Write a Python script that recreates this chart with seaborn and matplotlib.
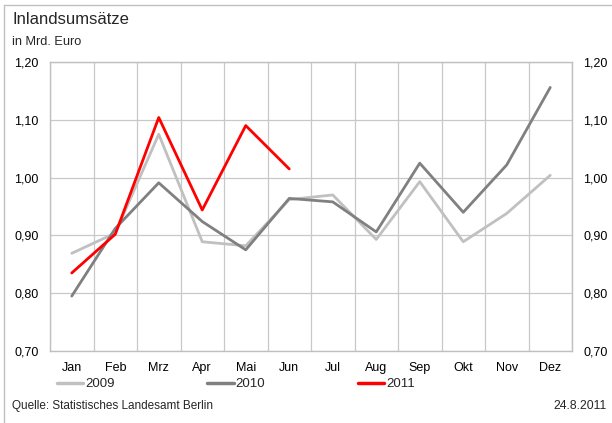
import pandas as pd
import matplotlib
matplotlib.use("Agg")
import matplotlib.pyplot as plt
import seaborn as sns
from matplotlib.lines import Line2D

# Daten
monate = ["Jan", "Feb", "Mrz", "Apr", "Mai", "Jun", "Jul", "Aug", "Sep", "Okt", "Nov", "Dez"]
werte_2009 = [0.869, 0.904, 1.075, 0.889, 0.882, 0.962, 0.970, 0.893, 0.993, 0.889, 0.938, 1.004]
werte_2010 = [0.795, 0.912, 0.991, 0.924, 0.875, 0.964, 0.958, 0.906, 1.025, 0.940, 1.022, 1.156]
werte_2011 = [0.835, 0.902, 1.104, 0.944, 1.090, 1.015]
y_ticks = [0.70, 0.80, 0.90, 1.00, 1.10, 1.20]

df = pd.concat([
    pd.DataFrame({"Monat": monate, "Wert": werte_2009, "Jahr": "2009"}),
    pd.DataFrame({"Monat": monate, "Wert": werte_2010, "Jahr": "2010"}),
    pd.DataFrame({"Monat": monate[:len(werte_2011)], "Wert": werte_2011, "Jahr": "2011"}),
])
df["x"] = df["Monat"].map({m: i for i, m in enumerate(monate)})

sns.set_style("white")
plt.rcParams["font.family"] = ["Liberation Sans", "DejaVu Sans"]

fig = plt.figure(figsize=(6.12, 4.23), dpi=100)
ax = fig.add_axes([50 / 612, 1 - 351 / 423, 522 / 612, 289 / 423])

farben = {"2009": "#c0c0c0", "2010": "#808080", "2011": "#ff0000"}
sns.lineplot(data=df, x="x", y="Wert", hue="Jahr", palette=farben,
             linewidth=2.0, ax=ax, legend=False, sort=False)

ax.set_xlim(-0.5, 11.5)
ax.set_ylim(0.70, 1.20)
ax.set_xticks(range(len(monate)))
ax.set_xticklabels(monate)
ax.set_xticks([i + 0.5 for i in range(-1, 12)], minor=True)
ax.set_yticks(y_ticks)
ax.set_yticklabels([f"{v:.2f}".replace(".", ",") for v in y_ticks])
ax.grid(True, which="minor", axis="x", color="#c8c8c8", linewidth=0.9)
ax.grid(True, which="major", axis="y", color="#c8c8c8", linewidth=0.9)
ax.tick_params(axis="both", which="both", length=0, labelsize=9, colors="black")
ax.tick_params(axis="y", labelright=True, pad=8)
ax.tick_params(axis="x", pad=8)
ax.set_xlabel("")
ax.set_ylabel("")
for s in ax.spines.values():
    s.set_color("#c0c0c0")
    s.set_linewidth(1.0)

# Legende
handles = [Line2D([], [], color=farben[j], linewidth=2.5) for j in ["2009", "2010", "2011"]]
fig.legend(handles, ["2009", "2010", "2011"], loc="center left",
           bbox_to_anchor=(57 / 612, 1 - 384 / 423), ncol=3, frameon=False,
           fontsize=9.5, handlelength=2.0, handletextpad=0.15, columnspacing=7.0,
           borderaxespad=0, borderpad=0)

# Texte
fig.text(12 / 612, 1 - 20 / 423, "Inlandsumsätze", fontsize=12, va="center", ha="left")
fig.text(12 / 612, 1 - 42 / 423, "in Mrd. Euro", fontsize=9.2, va="center", ha="left")
fig.text(12 / 612, 1 - 406 / 423, "Quelle: Statistisches Landesamt Berlin", fontsize=8.5, va="center", ha="left")
fig.text(607 / 612, 1 - 406 / 423, "24.8.2011", fontsize=8.8, va="center", ha="right")

# Rahmen (nur oben und links sichtbar)
fig.add_artist(Line2D([4 / 612, 1], [1 - 5 / 423, 1 - 5 / 423], transform=fig.transFigure,
                      color="#c0c0c0", linewidth=1.0))
fig.add_artist(Line2D([4 / 612, 4 / 612], [0, 1 - 5 / 423], transform=fig.transFigure,
                      color="#c0c0c0", linewidth=1.0))

fig.savefig("out.png", dpi=100)
